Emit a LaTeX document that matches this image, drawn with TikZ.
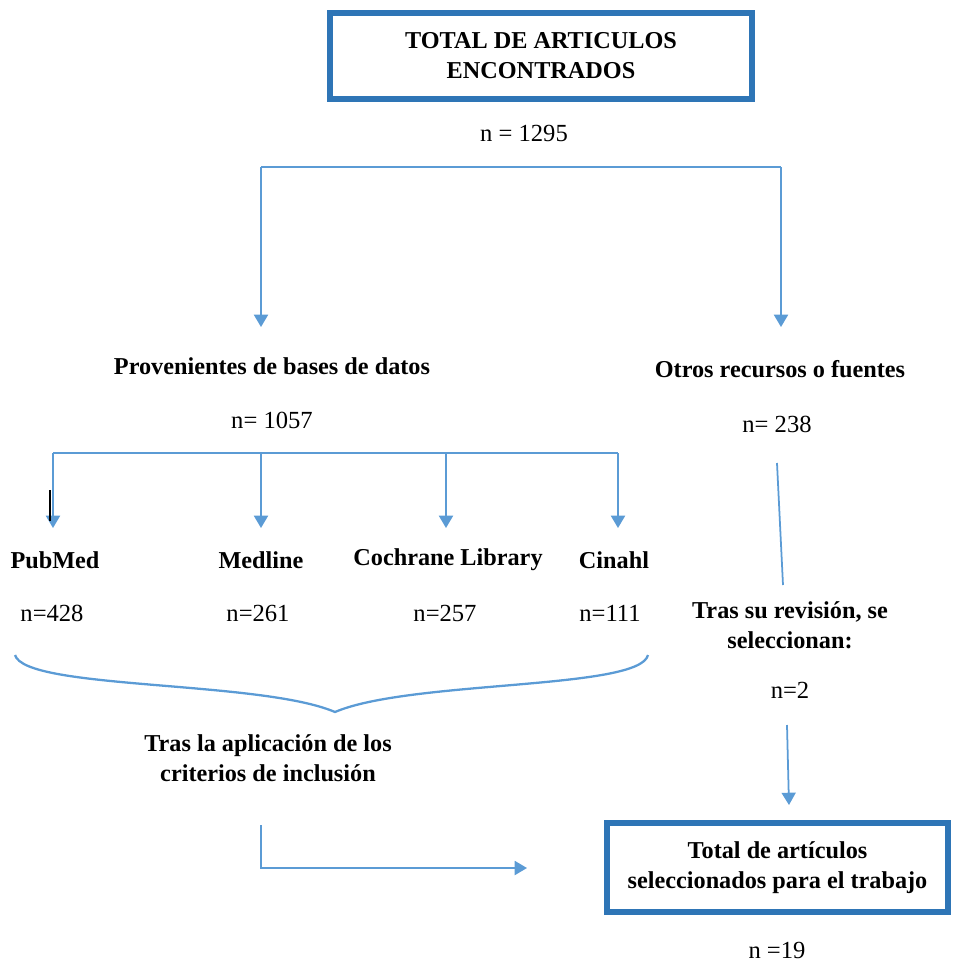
\documentclass[tikz,border=0pt]{standalone}
\usepackage{fontspec}
\setmainfont{Liberation Serif}
\usetikzlibrary{arrows.meta}
\definecolor{boxblue}{HTML}{2E75B6}
\definecolor{lineblue}{HTML}{5B9BD5}
\tikzset{
 title/.style={font=\fontsize{13.8}{17}\selectfont\bfseries, align=center},
 count/.style={font=\fontsize{14}{16}\selectfont},
 frame/.style={draw=boxblue, line width=3.4pt, inner sep=0pt},
 link/.style={draw=lineblue, line width=1pt},
 arr/.style={link, -{Triangle[width=8pt,length=7pt]}}
}
\begin{document}
\begin{tikzpicture}[x=0.02cm, y=-0.02cm]
 \useasboundingbox (0,0) rectangle (953,968);
 % top box and split
 \node[frame, title, minimum width=8.44cm, minimum height=1.72cm] (total) at (541,56) {TOTAL DE ARTICULOS\\ENCONTRADOS};
 \node[count] (n1295) at (524,133) {n = 1295};
 \coordinate (forkL) at (261,167);
 \coordinate (forkR) at (781,167);
 \coordinate (toBases) at (261,327);
 \coordinate (toOtros) at (781,327);
 \draw[link] (forkL) -- (forkR);
 \draw[arr] (forkL) -- (toBases);
 \draw[arr] (forkR) -- (toOtros);
 \node[title] (bases) at (272,366) {Provenientes de bases de datos};
 \node[count] (n1057) at (272,420) {n= 1057};
 \node[title] (otros) at (780,369) {Otros recursos o fuentes};
 \node[count] (n238) at (777,424) {n= 238};
 % databases
 \coordinate (dbL) at (53,453);
 \coordinate (dbR) at (618,453);
 \draw[link] (dbL) -- (dbR);
 \draw[arr] (dbL) -- (53,528);
 \draw[arr] (261,453) -- (261,528);
 \draw[arr] (446,453) -- (446,528);
 \draw[arr] (dbR) -- (618,528);
 \draw[black, line width=1pt] (50,490) -- (50,521);
 \node[title] (pubmed) at (55,560) {PubMed};
 \node[title] (medline) at (261,560) {Medline};
 \node[title] (cochrane) at (448,560) {Cochrane Library};
 \node[title] (cinahl) at (614,560) {Cinahl};
 \node[count] (n428) at (52,613) {n=428};
 \node[count] (n261) at (258,613) {n=261};
 \node[count] (n257) at (445,613) {n=257};
 \node[count] (n111) at (610,613) {n=111};
 % brace
 \coordinate (braceL) at (15,655);
 \coordinate (braceR) at (648,655);
 \coordinate (braceTip) at (335,712);
 \draw[link, line width=1.3pt] (braceL) .. controls (25,690) and (260,680) .. (braceTip)
   .. controls (410,680) and (640,690) .. (braceR);
 \node[title] (criterios) at (268,758) {Tras la aplicación de los\\criterios de inclusión};
 \coordinate (fromCrit) at (261,825);
 \coordinate (toFinal) at (527,868);
 \draw[arr] (fromCrit) |- (toFinal);
 % right column
 \draw[link] (777,463) -- (783,585);
 \node[title] (revision) at (790,625) {Tras su revisión, se\\seleccionan:};
 \node[count] (n2) at (790,690) {n=2};
 \draw[arr] (787,725) -- (789,805);
 % final box
 \node[frame, title, minimum width=6.82cm, minimum height=1.78cm] (final) at (777.5,867.5) {Total de artículos\\seleccionados para el trabajo};
 \node[count] (n19) at (777,950) {n =19};
\end{tikzpicture}
\end{document}
